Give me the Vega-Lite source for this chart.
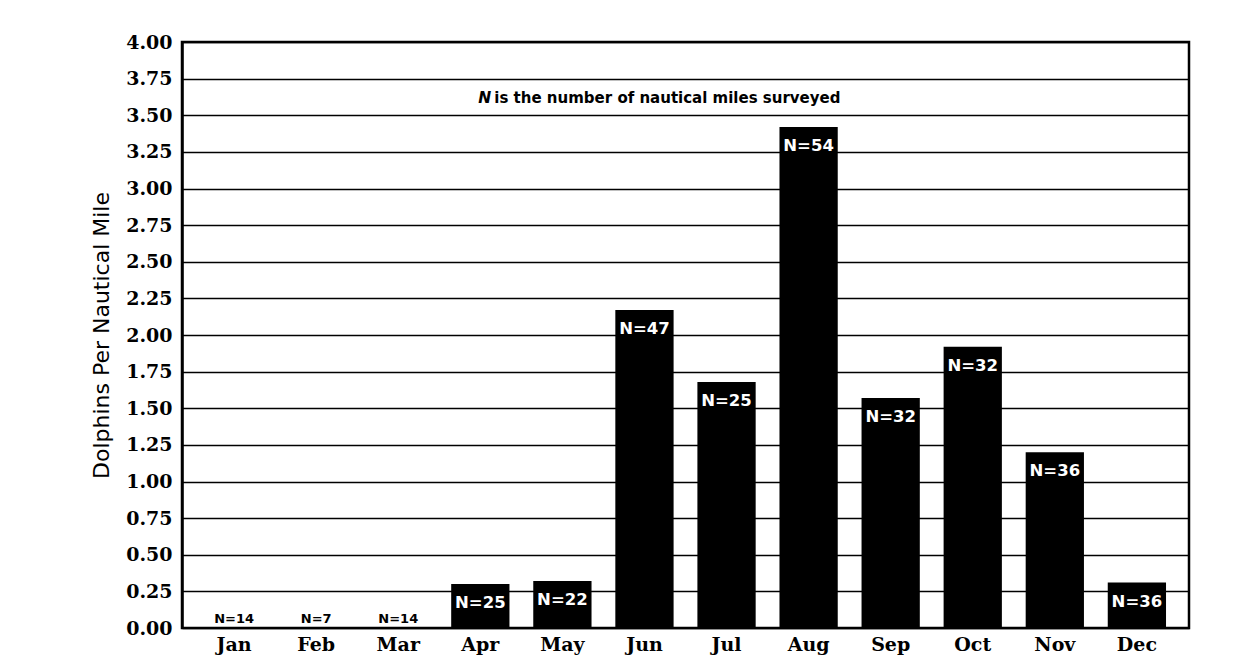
{
  "$schema": "https://vega.github.io/schema/vega-lite/v6.json",
  "width": 1007,
  "height": 586,
  "autosize": {"type": "none"},
  "padding": {"left": 182, "top": 42, "right": 64, "bottom": 35},
  "background": "white",
  "config": {
    "view": {"stroke": "black", "strokeWidth": 2.5},
    "axis": {"labelColor": "black", "titleColor": "black"}
  },
  "data": {
    "values": [
      {"month": "Jan", "value": 0, "n": "N=14"},
      {"month": "Feb", "value": 0, "n": "N=7"},
      {"month": "Mar", "value": 0, "n": "N=14"},
      {"month": "Apr", "value": 0.30, "n": "N=25"},
      {"month": "May", "value": 0.32, "n": "N=22"},
      {"month": "Jun", "value": 2.17, "n": "N=47"},
      {"month": "Jul", "value": 1.68, "n": "N=25"},
      {"month": "Aug", "value": 3.42, "n": "N=54"},
      {"month": "Sep", "value": 1.57, "n": "N=32"},
      {"month": "Oct", "value": 1.92, "n": "N=32"},
      {"month": "Nov", "value": 1.20, "n": "N=36"},
      {"month": "Dec", "value": 0.31, "n": "N=36"}
    ]
  },
  "encoding": {
    "x": {
      "field": "month",
      "type": "nominal",
      "sort": null,
      "scale": {
        "domain": ["Jan", "Feb", "Mar", "Apr", "May", "Jun", "Jul", "Aug", "Sep", "Oct", "Nov", "Dec"],
        "paddingInner": 0.29,
        "paddingOuter": 0.28
      },
      "axis": {
        "title": null,
        "domain": false,
        "ticks": false,
        "grid": false,
        "labelAngle": 0,
        "labelFont": "DejaVu Serif",
        "labelFontWeight": "bold",
        "labelFontSize": 19,
        "labelPadding": 7
      }
    },
    "y": {
      "field": "value",
      "type": "quantitative",
      "scale": {"domain": [0, 4], "nice": false},
      "axis": {
        "title": "Dolphins Per Nautical Mile",
        "titleFont": "DejaVu Sans",
        "titleFontSize": 22,
        "titleFontWeight": "normal",
        "titlePadding": 12,
        "values": [0, 0.25, 0.5, 0.75, 1, 1.25, 1.5, 1.75, 2, 2.25, 2.5, 2.75, 3, 3.25, 3.5, 3.75, 4],
        "format": ".2f",
        "labelFont": "DejaVu Serif",
        "labelFontWeight": "bold",
        "labelFontSize": 19,
        "labelPadding": 10,
        "ticks": false,
        "domain": true,
        "domainColor": "black",
        "domainWidth": 2.5,
        "grid": true,
        "gridColor": "black",
        "gridWidth": 1.6,
        "gridOpacity": 1
      }
    }
  },
  "layer": [
    {
      "mark": {"type": "bar", "color": "black"}
    },
    {
      "transform": [{"filter": "datum.value > 0"}],
      "mark": {
        "type": "text",
        "color": "white",
        "font": "DejaVu Sans",
        "fontWeight": "bold",
        "fontSize": 16.5,
        "baseline": "alphabetic",
        "dy": 24
      },
      "encoding": {"text": {"field": "n"}}
    },
    {
      "transform": [{"filter": "datum.value == 0"}],
      "mark": {
        "type": "text",
        "color": "black",
        "font": "DejaVu Sans",
        "fontWeight": "bold",
        "fontSize": 13,
        "baseline": "alphabetic",
        "dy": -5
      },
      "encoding": {"text": {"field": "n"}}
    },
    {
      "data": {"values": [{"month": "Apr", "value": 3.62, "note": "N"}]},
      "mark": {
        "type": "text",
        "color": "black",
        "font": "DejaVu Sans",
        "fontStyle": "italic",
        "fontWeight": "bold",
        "fontSize": 15.5,
        "align": "left",
        "baseline": "middle",
        "dx": -2
      },
      "encoding": {"text": {"field": "note"}}
    },
    {
      "data": {"values": [{"month": "Apr", "value": 3.62, "note": "is the number of nautical miles surveyed"}]},
      "mark": {
        "type": "text",
        "color": "black",
        "font": "DejaVu Sans",
        "fontWeight": "bold",
        "fontSize": 15,
        "align": "left",
        "baseline": "middle",
        "dx": 14
      },
      "encoding": {"text": {"field": "note"}}
    }
  ]
}
